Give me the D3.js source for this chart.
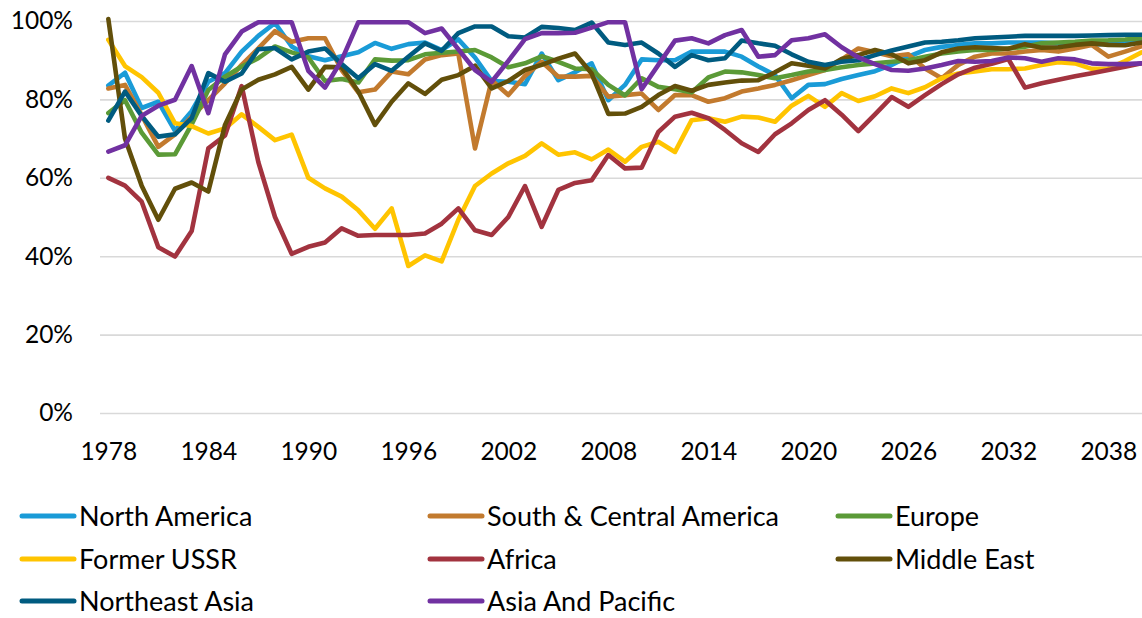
<!DOCTYPE html>
<html>
<head>
<meta charset="utf-8">
<script src="https://cdn.jsdelivr.net/npm/d3@7"></script>
<style>
  html, body { margin: 0; padding: 0; background: #fff; }
  svg { display: block; }
  text { font-family: Lato, "Liberation Sans", sans-serif; fill: #000; }
</style>
</head>
<body>
<svg id="chart" width="1142" height="618"></svg>
<script>
// Share of capacity by region, 1978–2040 (percent)
const years = d3.range(1978, 2041);
const xTickYears = [1978, 1984, 1990, 1996, 2002, 2008, 2014, 2020, 2026, 2032, 2038];
const yTicks = [0, 20, 40, 60, 80, 100];

const northAmerica = [83.5, 86.8, 77.8, 79.4, 72, 77, 84.5, 86.7, 92.2, 96.2, 99.5, 93.5, 91, 90, 91, 92, 94.4, 92.9, 94.1, 94.5, 92.6, 95.3, 90.7, 84.7, 84.5, 83.9, 91.7, 84.9, 86.9, 89.2, 79.8, 83.7, 90.2, 90, 90, 92.2, 92.2, 92.2, 90.9, 88.4, 86.2, 80.3, 83.7, 83.9, 85.2, 86.2, 87.2, 88.8, 90.9, 92.6, 93.4, 93.9, 94.3, 94.3, 94.5, 94.5, 94.5, 94.3, 94.3, 93.9, 94.3, 94.7, 95.3];
const southCentralAmerica = [82.8, 83.7, 76, 67.9, 71.1, 75.6, 79.8, 84.1, 88.8, 93, 97.4, 94.7, 95.6, 95.6, 87.5, 81.8, 82.5, 87.1, 86.4, 90.2, 91.3, 91.7, 67.5, 84.9, 81.1, 86, 89.6, 85.8, 85.8, 86, 80.7, 81.1, 81.5, 77.3, 81.1, 81.1, 79.4, 80.3, 82, 82.8, 83.7, 84.9, 86.2, 87.5, 90.2, 93, 92, 91, 91.5, 87.9, 85.4, 88.8, 90.9, 91.7, 91.7, 92.2, 92.6, 92.2, 93, 93.9, 90.9, 92.2, 93.6];
const europe = [76.5, 79.8, 71.5, 65.9, 66, 73.6, 82.4, 85.8, 88.4, 90.5, 93.5, 92, 90.7, 84.7, 85.2, 84.3, 90.2, 89.9, 90, 91.5, 91.9, 92.2, 92.6, 90.7, 88.2, 89.2, 91, 89.6, 87.9, 87.7, 83.7, 81, 85.4, 83.2, 82.6, 81.8, 85.6, 87.1, 86.9, 86.2, 85.4, 86.2, 87.1, 87.5, 88.2, 88.8, 89.2, 89.6, 90, 90.9, 91.7, 92.2, 92.6, 92.6, 93, 93.4, 94.3, 94.5, 94.7, 95, 95.1, 95.3, 95.6];
const formerUSSR = [95.2, 88.5, 85.7, 81.7, 73.9, 73.2, 71.3, 72.6, 76.2, 73, 69.6, 71, 60, 57.3, 55.2, 51.7, 47, 52.2, 37.5, 40.2, 38.7, 49.3, 57.9, 61.1, 63.7, 65.6, 68.8, 65.9, 66.5, 64.7, 67.2, 64.1, 67.9, 69.2, 66.6, 74.7, 75.2, 74.3, 75.6, 75.4, 74.3, 78.4, 80.9, 78.1, 81.6, 79.6, 80.8, 82.8, 81.6, 83.1, 85.4, 86.6, 87.1, 87.7, 87.7, 87.9, 88.8, 89.5, 89.2, 87.8, 87.9, 89.8, 92];
const africa = [60, 58, 53.9, 42.3, 39.9, 46.4, 67.5, 70.8, 83.4, 64, 50, 40.6, 42.4, 43.5, 47.1, 45.2, 45.4, 45.4, 45.4, 45.8, 48.3, 52.2, 46.6, 45.4, 50, 57.9, 47.5, 56.9, 58.7, 59.4, 65.8, 62.4, 62.6, 71.7, 75.6, 76.6, 75.2, 72.2, 68.8, 66.6, 71.1, 73.9, 77.3, 79.8, 76.1, 71.9, 76.2, 80.6, 78.1, 81.1, 83.9, 86.4, 88.1, 89.1, 90.3, 83, 84.1, 85, 85.9, 86.7, 87.5, 88.3, 89.2];
const middleEast = [100.5, 70, 58, 49.3, 57.2, 58.8, 56.5, 73.5, 82.5, 85, 86.4, 88.3, 82.5, 88.3, 88.2, 82, 73.5, 79.4, 84.1, 81.4, 85, 86.2, 88.6, 82.8, 84.7, 87.5, 88.8, 90.4, 91.7, 86.6, 76.3, 76.4, 78.1, 81.1, 83.4, 82.2, 83.7, 84.3, 84.8, 84.9, 86.9, 89.2, 88.6, 87.9, 90.3, 91.3, 92.6, 91.5, 89.2, 90, 92, 93, 93.3, 93.1, 92.9, 94.1, 93.2, 93.3, 93.9, 94.3, 93.9, 93.8, 94.5];
const northeastAsia = [74.6, 82, 75.8, 70.5, 71.1, 75.2, 86.7, 84.5, 86.6, 92.8, 93.1, 90.2, 92.2, 93, 89, 85.4, 89, 87.3, 90.9, 94.3, 92.4, 96.9, 98.6, 98.6, 96.1, 95.8, 98.5, 98.2, 97.7, 99.6, 94.5, 93.9, 94.5, 91.7, 88.3, 91.3, 90, 90.5, 95, 94.3, 93.7, 91.5, 89.6, 88.8, 89.6, 90, 91.3, 92.5, 93.5, 94.5, 94.7, 95.1, 95.6, 95.8, 96, 96.2, 96.2, 96.2, 96.2, 96.3, 96.4, 96.5, 96.5];
const asiaPacific = [66.7, 68.3, 75.8, 78.4, 79.9, 88.5, 76.5, 91.5, 97.3, 99.7, 99.7, 99.7, 87.3, 83, 90, 99.7, 99.7, 99.7, 99.7, 96.9, 98.1, 92.8, 87.5, 84.5, 89.8, 95.4, 96.9, 96.9, 97, 98.3, 99.7, 99.7, 82.6, 88.8, 95, 95.6, 94.3, 96.4, 97.7, 90.9, 91.3, 95.1, 95.6, 96.6, 93.3, 90.7, 89, 87.5, 87.3, 87.9, 88.8, 89.8, 89.6, 89.8, 90.7, 90.5, 89.6, 90.5, 90.2, 89.2, 89, 89, 89.2];

const seriesNames = ["North America", "South & Central America", "Europe", "Former USSR", "Africa", "Middle East", "Northeast Asia", "Asia And Pacific"];
const seriesColors = ["#1a9bd7", "#c27a2e", "#5b9a37", "#ffc400", "#a2333f", "#624f0a", "#005b80", "#7131a1"];
const seriesValues = [northAmerica, southCentralAmerica, europe, formerUSSR, africa, middleEast, northeastAsia, asiaPacific];

const svg = d3.select("#chart");

const x = d3.scaleLinear().domain([1977.5, 2040.5]).range([100, 1150]);
const y = d3.scaleLinear().domain([0, 100]).range([413, 21]);

// horizontal gridlines + percent labels
const yAxis = svg.append("g")
  .attr("transform", "translate(100,0)")
  .call(d3.axisLeft(y).tickValues(yTicks).tickSize(-1050).tickPadding(27).tickFormat(d => d + "%"));
yAxis.select(".domain").remove();
yAxis.selectAll(".tick line").attr("stroke", "#d9d9d9").attr("stroke-width", 1.6);
yAxis.selectAll(".tick text").style("font-size", "24.5px").attr("fill", "#000");

// year labels
const xAxis = svg.append("g")
  .attr("transform", "translate(0,413)")
  .call(d3.axisBottom(x).tickValues(xTickYears).tickSize(0).tickPadding(30).tickFormat(d3.format("d")));
xAxis.select(".domain").remove();
xAxis.selectAll(".tick text").style("font-size", "24.5px").attr("fill", "#000");

// series lines
const line = d3.line()
  .x((d, i) => x(years[i]))
  .y(d => y(d));

svg.append("g")
  .selectAll("path")
  .data(seriesValues)
  .join("path")
  .attr("d", d => line(d))
  .attr("fill", "none")
  .attr("stroke", (d, i) => seriesColors[i])
  .attr("stroke-width", 4.6)
  .attr("stroke-linejoin", "round")
  .attr("stroke-linecap", "round");

// legend: three columns, three rows
const legendCols = [20, 428, 836];
const legendRows = [516, 559, 601];
const legend = svg.append("g")
  .selectAll("g")
  .data(seriesNames)
  .join("g")
  .attr("transform", (d, i) => `translate(${legendCols[i % 3]},${legendRows[Math.floor(i / 3)]})`);
legend.append("line")
  .attr("x1", 2).attr("x2", 54).attr("y1", 0).attr("y2", 0)
  .attr("stroke", (d, i) => seriesColors[i])
  .attr("stroke-width", 5)
  .attr("stroke-linecap", "round");
legend.append("text")
  .attr("x", 59)
  .attr("dy", "0.36em")
  .style("font-size", "27px")
  .text(d => d);
</script>
</body>
</html>
